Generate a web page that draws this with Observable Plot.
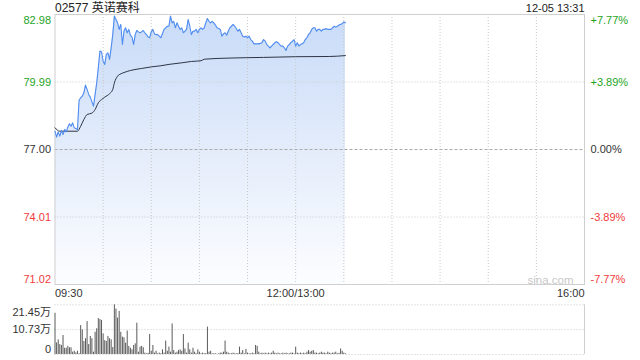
<!DOCTYPE html>
<html><head><meta charset="utf-8">
<script src="https://cdn.jsdelivr.net/npm/d3@7"></script>
<script src="https://cdn.jsdelivr.net/npm/@observablehq/plot@0.6"></script>
<style>
html,body{margin:0;padding:0;background:#fff;}
#chart{position:relative;width:640px;height:360px;overflow:hidden;}
#chart svg{position:absolute;left:0;}
</style></head><body><div id="chart"></div>
<script>
// ---------- data ----------
const title = "02577 英诺赛科";
const stamp = "12-05 13:31";
const prevClose = 77.00;
const priceTicks = [71.02, 74.01, 77.00, 79.99, 82.98];
const pctTicks = ["-7.77%", "-3.89%", "0.00%", "+3.89%", "+7.77%"];
const sessionMinutes = [0, 330];
const gridMinutes = [30, 60, 90, 120, 150, 180, 210, 240, 270, 300];
const timeLabels = ["09:30", "12:00/13:00", "16:00"];
const timeLabelMinutes = [0, 150, 330];
const watermark = "sina.com";

const priceMinutes = [0,1,2,3,4,5,6,7,8,9,10,11,12,13,14,15,16,17,18,19,20,21,22,23,24,26,27,28,29,30,31,32,33,34,35,36,37,38,39,40,41,42,43,44,45,46,47,48,49,50,51,52,53,54,55,56,57,58,59,60,61,62,63,64,65,66,68,69,70,71,72,73,74,75,76,77,78,79,80,81,82,83,84,85,86,87,88,89,90,91,92,93,94,95,96,97,98,99,100,101,102,103,104,105,106,107,108,109,110,111,112,113,114,115,116,117,118,119,120,121,122,123,124,126,127,128,129,130,131,132,133,134,135,136,137,138,139,140,141,142,143,144,145,146,147,148,149,150,151,152,153,154,155,156,157,158,159,160,161,162,163,164,165,166,167,168,169,170,171,172,173,174,175,176,177,179,180,181];
const prices = [77.81,77.55,77.78,77.59,77.84,77.66,77.89,77.78,77.99,78.14,78.03,78.18,77.96,77.93,77.89,79.17,79.29,79.36,79.51,79.85,79.66,79.44,79.32,79.11,78.92,79.95,80.62,81.36,81.33,80.91,80.77,81.21,81.28,80.99,81.50,82.09,82.91,82.76,82.61,82.32,82.54,81.65,82.24,82.39,82.17,82.32,82.06,81.98,81.65,82.09,82.27,82.21,82.17,82.21,82.27,82.17,82.09,81.98,81.95,82.21,82.32,82.12,82.09,82.09,82.02,81.95,82.32,82.39,82.46,82.46,82.91,82.61,82.68,82.39,82.61,82.46,82.32,82.39,82.17,82.24,82.32,82.76,82.46,82.09,82.24,82.24,82.32,82.17,82.32,82.39,82.32,82.39,82.61,82.80,82.68,82.61,82.68,82.61,82.51,82.39,82.36,82.32,82.02,82.12,82.17,82.06,82.24,82.39,82.46,82.54,82.46,82.36,82.24,82.32,82.17,82.02,81.98,82.02,81.95,82.02,81.87,81.80,81.68,81.68,81.68,81.70,81.73,81.87,81.80,81.65,81.58,81.50,81.58,81.65,81.73,81.77,81.73,81.65,81.58,81.58,81.50,81.39,81.58,81.65,81.73,81.80,81.87,81.58,81.73,81.58,81.65,81.68,81.73,81.87,81.95,82.09,82.17,82.32,82.39,82.39,82.24,82.32,82.32,82.24,82.32,82.32,82.36,82.32,82.32,82.32,82.39,82.46,82.42,82.46,82.51,82.57,82.65,82.61];

const avgMinutes = [0,3,14,16,18,20,23,25,27,29,31,34,36,37,39,41,43,47,54,60,66,71,79,85,91,93,109,130,150,171,181];
const avgPrices = [77.96,77.81,77.81,78.03,78.33,78.55,78.61,78.77,79.07,79.21,79.32,79.47,79.66,79.95,80.25,80.35,80.41,80.50,80.59,80.66,80.71,80.77,80.84,80.90,80.93,81.00,81.05,81.08,81.11,81.12,81.16];

// volume per minute from 09:30 (万股)
const volumes = [17.8,5.0,6.3,4.3,3.9,8.2,2.7,2.7,3.5,2.9,2.9,1.0,1.4,0.7,1.4,0.3,12.5,10.6,5.6,6.8,14.2,4.3,7.8,6.8,1.0,9.6,11.1,15.5,15.1,14.7,8.9,6.0,5.6,7.8,6.8,6.3,3.0,21.45,19.6,15.7,18.6,9.6,7.5,7.2,4.9,10.1,3.5,2.7,2.0,3.9,4.6,13.5,1.0,3.2,3.5,2.9,0.6,0.3,0.5,8.6,1.4,3.9,0.6,1.4,0.3,0.6,0.3,2.0,0.6,5.8,1.4,3.2,1.0,13.2,1.7,0.6,1.0,1.7,2.0,1.4,8.6,2.4,0.6,4.9,2.0,0.6,2.7,1.0,0.3,2.0,1.0,
  0.3,0.6,0.3,0.4,11.8,1.0,1.4,0.3,0.3,0.3,0.1,0.3,0.6,0.6,1.0,5.8,1.0,0.6,0.3,0.3,0.6,0.3,0.3,0.4,3.2,0.6,1.7,0.3,2.2,0.6,0.3,0.3,0.6,0.3,3.9,3.5,1.0,0.3,0.6,0.3,0.6,0.3,0.6,0.3,0.6,1.4,0.6,0.3,0.6,0.3,0.3,0.6,0.3,0.6,0.3,0.3,0.6,0.6,0.3,3.2,0.6,0.3,0.6,0.3,0.6,0.3,1.0,1.7,1.0,1.4,1.7,0.6,0.6,0.3,0.6,1.0,0.6,0.6,0.3,1.0,0.6,0.3,0.6,0.6,1.0,0.3,0.5,2.4,1.4,0.6,0.3];
const volTicks = [0, 10.73, 21.45];
const volTickLabels = ["0", "10.73万", "21.45万"];

// ---------- drawing ----------
const FONT = 'Arial, "Liberation Sans", "Noto Sans CJK SC", sans-serif';
const GREEN = "#1ea51e", RED = "#f03c3c", INK = "#333";
const col = v => v > prevClose ? GREEN : v < prevClose ? RED : INK;

const priceData = priceMinutes.map((m, i) => ({m, p: prices[i]}));
const avgData = avgMinutes.map((m, i) => ({m, p: avgPrices[i]}));
const yMin = priceTicks[0], yMax = priceTicks[priceTicks.length - 1];
const tickData = priceTicks.map((v, i) => ({v, pct: pctTicks[i]}));
const topT = tickData.filter(d => d.v === yMax);
const botT = tickData.filter(d => d.v === yMin);
const midT = tickData.filter(d => d.v !== yMax && d.v !== yMin);
const timeData = timeLabels.map((t, i) => ({t, m: timeLabelMinutes[i]}));

function leftRight(data, anchor, dy) {
  return [
    Plot.text(data, {frameAnchor: "left", y: "v", text: d => d.v.toFixed(2), fill: d => col(d.v),
      textAnchor: "end", lineAnchor: anchor, dx: -4, dy}),
    Plot.text(data, {frameAnchor: "right", y: "v", text: "pct", fill: d => col(d.v),
      textAnchor: "start", lineAnchor: anchor, dx: 6, dy})
  ];
}

const main = Plot.plot({
  width: 640, height: 300,
  marginLeft: 54.5, marginRight: 56, marginTop: 14, marginBottom: 16,
  x: {domain: sessionMinutes, axis: null},
  y: {domain: [yMin, yMax], axis: null},
  color: {type: "identity"},
  style: {fontFamily: FONT, fontSize: "11px", background: "transparent", overflow: "visible"},
  marks: [
    Plot.areaY(priceData, {x: "m", y1: yMin, y2: "p", fill: "url(#pg)"}),
    Plot.ruleX(gridMinutes, {stroke: "#c8c8c8", strokeDasharray: "1,2"}),
    Plot.ruleY(priceTicks.filter(v => v !== prevClose && v !== yMin && v !== yMax), {stroke: "#c8c8c8", strokeDasharray: "1,2"}),
    Plot.ruleY([prevClose], {stroke: "#aaa", strokeDasharray: "3,2"}),
    Plot.frame({stroke: "#cfcfcf"}),
    Plot.line(avgData, {x: "m", y: "p", stroke: "#2d3546", strokeWidth: 1, curve: "monotone-x"}),
    Plot.line(priceData, {x: "m", y: "p", stroke: "#4f8cf0", strokeWidth: 1.1}),
    ...leftRight(topT, "top", 2),
    ...leftRight(midT, "middle", 0),
    ...leftRight(botT, "bottom", -2),
    Plot.text(timeData.filter(d => d.m === sessionMinutes[0]), {x: "m", frameAnchor: "bottom", text: "t", textAnchor: "start", lineAnchor: "top", dy: 5, fill: INK}),
    Plot.text(timeData.filter(d => d.m !== sessionMinutes[0] && d.m !== sessionMinutes[1]), {x: "m", frameAnchor: "bottom", text: "t", textAnchor: "middle", lineAnchor: "top", dy: 5, fill: INK}),
    Plot.text(timeData.filter(d => d.m === sessionMinutes[1]), {x: "m", frameAnchor: "bottom", text: "t", textAnchor: "end", lineAnchor: "top", dy: 5, fill: INK}),
    Plot.text([title], {frameAnchor: "top-left", text: d => d, textAnchor: "start", lineAnchor: "bottom", dy: -3, fontSize: 12, fill: "#222"}),
    Plot.text([stamp], {frameAnchor: "top-right", text: d => d, textAnchor: "end", lineAnchor: "bottom", dy: -3, fill: "#222"}),
    Plot.text([watermark], {frameAnchor: "bottom-right", text: d => d, textAnchor: "end", lineAnchor: "bottom", dx: -11, dy: -1, fill: "#c8c8c8", fontSize: 11.5})
  ]
});
const defs = d3.select(main).insert("defs", ":first-child");
const lg = defs.append("linearGradient").attr("id", "pg")
  .attr("gradientUnits", "userSpaceOnUse").attr("x1", 0).attr("x2", 0).attr("y1", 14).attr("y2", 284);
lg.append("stop").attr("offset", "0%").attr("stop-color", "#c8dbf8");
lg.append("stop").attr("offset", "55%").attr("stop-color", "#e6eefb");
lg.append("stop").attr("offset", "100%").attr("stop-color", "#fcfdff");
main.style.top = "0px";

const volData = volumes.map((v, m) => ({m, v}));
const volLab = volTicks.map((v, i) => ({v, t: volTickLabels[i]}));
const vMax = volTicks[volTicks.length - 1];
const vol = Plot.plot({
  width: 640, height: 70,
  marginLeft: 54.5, marginRight: 56, marginTop: 14.3, marginBottom: 6,
  x: {domain: sessionMinutes, axis: null},
  y: {domain: [0, vMax], axis: null},
  style: {fontFamily: FONT, fontSize: "11px", background: "transparent", overflow: "visible"},
  marks: [
    Plot.ruleY(volTicks, {stroke: "#c8c8c8", strokeDasharray: "1,2"}),
    Plot.ruleX([sessionMinutes[1]], {stroke: "#cfcfcf"}),
    Plot.ruleX(volData, {x: "m", y: "v", stroke: "#5a5a5a", strokeWidth: 1}),
    Plot.text(volLab.filter(d => d.v === vMax), {frameAnchor: "left", y: "v", text: "t", textAnchor: "end", lineAnchor: "top", dx: -4, dy: 3, fill: INK}),
    Plot.text(volLab.filter(d => d.v !== vMax && d.v !== 0), {frameAnchor: "left", y: "v", text: "t", textAnchor: "end", lineAnchor: "middle", dx: -4, fill: INK}),
    Plot.text(volLab.filter(d => d.v === 0), {frameAnchor: "left", y: "v", text: "t", textAnchor: "end", lineAnchor: "bottom", dx: -4, dy: -2, fill: INK})
  ]
});
vol.style.top = "290px";

const host = document.getElementById("chart");
host.appendChild(main);
host.appendChild(vol);
</script>
</body></html>
